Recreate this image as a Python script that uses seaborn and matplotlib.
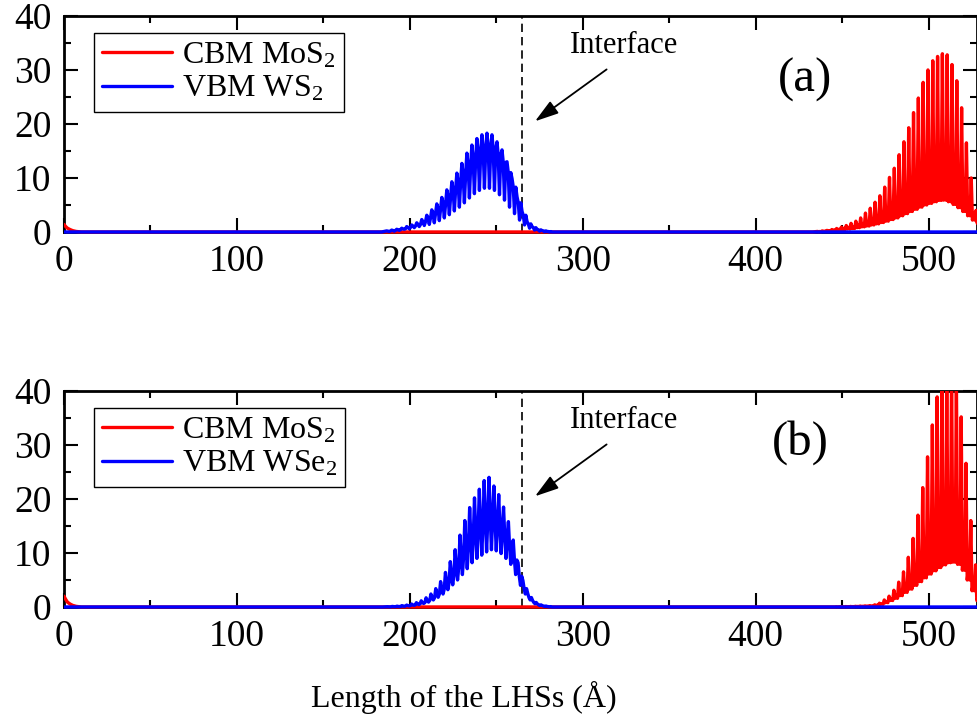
import numpy as np
import pandas as pd
import matplotlib
matplotlib.use("Agg")
import matplotlib.pyplot as plt
import seaborn as sns
from matplotlib.patches import Rectangle
from matplotlib.ticker import MultipleLocator

# ---- data ----
# each oscillation period: top value, lower value and middle value of the wiggle
# (red curves = narrow spikes up from a base, blue curves = narrow dips down)
step_red = 2.78
step_blue_a = 2.9
step_blue_b = 2.8

# panel (a)
red_a_bump_x = [0, 1, 2, 3.5, 5, 7, 10]
red_a_bump_y = [1.4, 1.0, 0.7, 0.45, 0.25, 0.1, 0.0]
red_a_x0 = 435.7
red_a_top = [0.1, 0.2, 0.3, 0.45, 0.65, 0.9, 1.2, 1.6, 2.0, 2.6, 3.5, 4.4, 5.5, 6.7,
             8.3, 10.1, 11.8, 14.3, 16.7, 19.3, 22.1, 24.8, 27.7, 30.0, 31.7, 32.5,
             33.0, 32.8, 31.0, 28.0, 23.0, 16.5, 10.0, 4.0]
red_a_low = [0.05, 0.1, 0.15, 0.25, 0.35, 0.45, 0.55, 0.65, 0.8, 0.95, 1.1, 1.3, 1.5,
             1.75, 2.0, 2.3, 2.6, 3.0, 3.4, 3.8, 4.2, 4.6, 5.0, 5.3, 5.6, 5.85, 5.9,
             5.6, 5.1, 4.5, 3.8, 3.0, 2.2, 1.6]
red_a_mid = [0.08, 0.15, 0.24, 0.36, 0.5, 0.68, 0.85, 1.0, 1.25, 1.5, 1.8, 2.1, 2.4,
             2.8, 3.2, 3.7, 4.2, 4.8, 5.4, 6.1, 6.7, 7.4, 8.0, 8.5, 9.0, 9.4, 9.5,
             9.0, 8.2, 7.2, 6.1, 4.8, 3.5, 2.6]

blue_a_x0 = 186.6
blue_a_top = [0.2, 0.35, 0.5, 0.7, 1.0, 1.3, 1.7, 2.3, 3.1, 4.1, 5.2, 6.4, 7.8, 9.3,
              10.9, 12.7, 14.6, 16.1, 17.3, 18.0, 18.3, 18.0, 16.7, 15.2, 13.0, 9.9,
              6.5, 3.8, 1.9, 1.0, 0.5, 0.25, 0.1]
blue_a_mid = [0.16, 0.28, 0.42, 0.58, 0.84, 1.1, 1.4, 1.9, 2.6, 3.4, 4.3, 5.3, 6.5,
              7.8, 9.2, 10.7, 12.3, 13.6, 14.7, 15.3, 15.6, 15.3, 14.2, 12.9, 11.0,
              8.3, 5.4, 3.1, 1.5, 0.8, 0.4, 0.2, 0.08]
blue_a_low = [0.1, 0.15, 0.3, 0.5, 0.6, 0.8, 1.0, 1.2, 1.4, 1.7, 2.1, 2.6, 3.2, 3.9,
              4.6, 5.4, 6.3, 7.1, 7.7, 8.1, 8.1, 7.7, 6.9, 5.9, 4.6, 3.4, 2.2, 1.3,
              0.7, 0.35, 0.15, 0.05, 0.0]

# panel (b)
red_b_bump_x = [0, 1, 2, 3.5, 5, 7, 10]
red_b_bump_y = [2.0, 1.4, 0.9, 0.55, 0.3, 0.12, 0.0]
red_b_x0 = 443.8
red_b_top = [0.02, 0.04, 0.06, 0.08, 0.1, 0.13, 0.17, 0.2, 0.25, 0.4, 0.7, 1.3, 2.0,
             3.1, 4.6, 6.5, 9.2, 12.7, 17.0, 22.1, 27.8, 33.7, 38.9, 42.0, 44.0,
             44.0, 42.0, 35.2, 26.6, 16.0, 7.8]
red_b_low = [0.01, 0.02, 0.03, 0.04, 0.05, 0.07, 0.09, 0.12, 0.18, 0.3, 0.5, 0.8, 1.2,
             1.6, 2.1, 2.7, 3.3, 4.0, 4.7, 5.4, 6.1, 6.7, 7.3, 7.8, 8.2, 8.3, 7.9,
             6.8, 5.0, 3.0, 1.2]
red_b_mid = [0.015, 0.03, 0.045, 0.06, 0.075, 0.1, 0.13, 0.17, 0.2, 0.32, 0.55, 0.95,
             1.5, 2.3, 3.0, 3.8, 4.7, 5.6, 6.6, 7.6, 8.5, 9.4, 10.2, 10.9, 11.5, 11.6,
             11.1, 9.5, 7.0, 4.2, 1.7]

blue_b_x0 = 187.0
blue_b_top = [0.05, 0.1, 0.15, 0.25, 0.35, 0.55, 0.8, 1.15, 1.7, 2.4, 3.4, 4.7, 6.4,
              8.4, 10.6, 13.3, 16.0, 18.4, 20.2, 21.8, 23.4, 24.0, 22.4, 20.8, 18.5,
              15.8, 12.4, 8.2, 4.9, 2.5, 1.2, 0.55, 0.25, 0.1]
blue_b_mid = [0.035, 0.07, 0.1, 0.18, 0.25, 0.38, 0.56, 0.8, 1.2, 1.7, 2.4, 3.3, 4.5,
              5.9, 7.4, 9.3, 11.2, 12.9, 14.1, 15.3, 16.4, 16.8, 15.7, 14.6, 13.0,
              11.1, 8.7, 5.7, 3.4, 1.75, 0.84, 0.39, 0.18, 0.07]
blue_b_low = [0.02, 0.05, 0.08, 0.12, 0.2, 0.3, 0.45, 0.65, 0.9, 1.3, 1.8, 2.4, 3.2,
              4.1, 5.0, 6.0, 7.1, 8.2, 9.0, 9.6, 10.2, 10.6, 10.4, 9.9, 9.0, 7.9,
              6.0, 4.0, 2.4, 1.3, 0.6, 0.25, 0.1, 0.03]

interface_x = 264.6
labels_a = ["CBM MoS$_2$", "VBM WS$_2$"]
labels_b = ["CBM MoS$_2$", "VBM WSe$_2$"]
x_end = 528


def wave(x0, step, p1, p2, p3):
    # four samples per period: p1, p2, p3, p2
    n = len(p1)
    xs = x0 + step * np.arange(4 * n) / 4.0
    ys = np.column_stack([p1, p2, p3, p2]).ravel()
    return xs, ys


def red_curve(bx, by, x0, top, low, mid):
    xs, ys = wave(x0, step_red, top, low, mid)
    x = np.concatenate([bx, [x0 - step_red], xs])
    y = np.concatenate([by, [0.0], ys])
    return pd.DataFrame({"x": x, "y": y})


def blue_curve(x0, step, top, mid, low):
    xs, ys = wave(x0, step, top, mid, low)
    x = np.concatenate([[0, x0 - step], xs, [xs[-1] + step / 4, x_end + 5]])
    y = np.concatenate([[0, 0], ys, [0, 0]])
    return pd.DataFrame({"x": x, "y": y})


sns.set_style("ticks")
plt.rcParams["font.family"] = ["Liberation Serif", "DejaVu Serif"]
plt.rcParams["mathtext.fontset"] = "custom"
plt.rcParams["mathtext.rm"] = "Liberation Serif"
plt.rcParams["mathtext.it"] = "Liberation Serif:italic"
plt.rcParams["text.color"] = "black"
plt.rcParams["axes.labelcolor"] = "black"
plt.rcParams["xtick.color"] = "black"
plt.rcParams["ytick.color"] = "black"

fig = plt.figure(figsize=(9.77, 7.22), dpi=100)
ax1 = fig.add_axes([0.0655, 0.6787, 0.9345, 0.2992])
ax2 = fig.add_axes([0.0655, 0.1593, 0.9345, 0.2992])

panels = [
    (ax1, red_curve(red_a_bump_x, red_a_bump_y, red_a_x0, red_a_top, red_a_low, red_a_mid),
     blue_curve(blue_a_x0, step_blue_a, blue_a_top, blue_a_mid, blue_a_low), labels_a, "(a)",
     (428.6, 28.1)),
    (ax2, red_curve(red_b_bump_x, red_b_bump_y, red_b_x0, red_b_top, red_b_low, red_b_mid),
     blue_curve(blue_b_x0, step_blue_b, blue_b_top, blue_b_mid, blue_b_low), labels_b, "(b)",
     (425.8, 30.5)),
]

for ax, red, blue, labels, tag, tagpos in panels:
    sns.lineplot(data=red, x="x", y="y", ax=ax, color="#ff0000", lw=2.4,
                 estimator=None, sort=False, label=labels[0])
    sns.lineplot(data=blue, x="x", y="y", ax=ax, color="#0000ff", lw=2.4,
                 estimator=None, sort=False, label=labels[1])
    # let the curves sit on top of the bottom spine, but stay cut at the top
    for line in ax.lines[:2]:
        line.set_zorder(3)
        line.set_clip_path(Rectangle((0, -0.03), 1, 1.03, transform=ax.transAxes,
                                     facecolor="none"))
    ax.axvline(interface_x, color="black", lw=1.2, ls=(0, (5, 3)))
    ax.text(324, 34.6, "Interface", ha="center", va="center", fontsize=22)
    ax.annotate("", xy=(272.4, 20.5), xytext=(313.8, 30.1),
                arrowprops=dict(arrowstyle="-|>,head_length=1.45,head_width=0.45",
                                color="black", lw=1.3, shrinkA=0, shrinkB=0,
                                mutation_scale=10))
    ax.text(tagpos[0], tagpos[1], tag, ha="center", va="center", fontsize=35)

    ax.set_xlim(0, x_end)
    ax.set_ylim(0, 40)
    ax.set_xlabel("")
    ax.set_ylabel("")
    ax.xaxis.set_major_locator(MultipleLocator(100))
    ax.xaxis.set_minor_locator(MultipleLocator(50))
    ax.yaxis.set_major_locator(MultipleLocator(10))
    ax.yaxis.set_minor_locator(MultipleLocator(5))
    ax.tick_params(which="both", direction="in", top=True, right=True, width=1.5,
                   colors="black", labelsize=27, pad=9)
    ax.tick_params(which="major", length=10)
    ax.tick_params(which="minor", length=5)
    for s in ax.spines.values():
        s.set_visible(True)
        s.set_linewidth(2.0)
        s.set_color("black")

    leg = ax.legend(loc="upper left", bbox_to_anchor=(0.0329, 0.921), borderaxespad=0,
                    fontsize=23, frameon=True, fancybox=False, framealpha=1,
                    edgecolor="black", borderpad=0.25, handlelength=2.2,
                    handletextpad=0.3, labelspacing=0.12)
    leg.get_frame().set_linewidth(1.0)
    for t in leg.get_texts():
        t.set_color("black")

fig.text(464 / 977, 1 - 697 / 722, "Length of the LHSs (\u00c5)", ha="center",
         va="center", fontsize=23)

fig.savefig("out.png", dpi=100)
